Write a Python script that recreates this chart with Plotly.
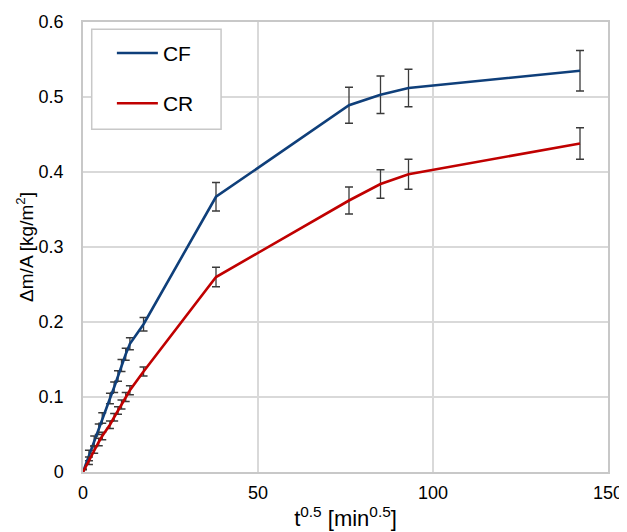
import plotly.graph_objects as go

x_vals = [0, 1.7, 3.2, 4.5, 5.5, 7.7, 8.9, 10.0, 11.0, 12.2, 13.4, 17.3, 38, 76, 85, 93, 142]
cf_vals = [0, 0.022, 0.041, 0.057, 0.072, 0.098, 0.113, 0.128, 0.142, 0.157, 0.171, 0.197, 0.367, 0.489, 0.503, 0.512, 0.535]
cf_err = [0.004, 0.007, 0.007, 0.007, 0.007, 0.007, 0.007, 0.007, 0.008, 0.008, 0.008, 0.009, 0.019, 0.024, 0.025, 0.025, 0.027]
cr_vals = [0, 0.015, 0.03, 0.04, 0.048, 0.063, 0.073, 0.082, 0.09, 0.1, 0.109, 0.134, 0.260, 0.362, 0.384, 0.397, 0.438]
cr_err = [0.003, 0.005, 0.005, 0.005, 0.005, 0.005, 0.005, 0.005, 0.006, 0.006, 0.006, 0.006, 0.013, 0.018, 0.019, 0.020, 0.021]

err_style = dict(type="data", thickness=1.3, width=4, color="#3a3a3a")

fig = go.Figure()
fig.add_trace(go.Scatter(x=x_vals, y=cf_vals, mode="lines", name="CF",
                         line=dict(color="#0F3F7A", width=2.6),
                         error_y=dict(array=cf_err, **err_style), legendgroup="a"))
fig.add_trace(go.Scatter(x=x_vals, y=cr_vals, mode="lines", name="CR",
                         line=dict(color="#C00000", width=2.6),
                         error_y=dict(array=cr_err, **err_style), legendgroup="b"))

font = dict(family="Liberation Sans, Arial, sans-serif", size=18, color="#000000")

fig.update_layout(
    width=619, height=524,
    margin=dict(l=75, r=19, t=14, b=60),
    paper_bgcolor="white", plot_bgcolor="white",
    font=font,
    showlegend=True,
    legend=dict(x=0.055, y=0.976, xanchor="left", yanchor="top",
                borderwidth=0, bgcolor="rgba(0,0,0,0)",
                font=dict(family="Liberation Sans, Arial, sans-serif", size=21),
                tracegroupgap=20, itemwidth=41),
    shapes=[dict(type="rect", xref="paper", yref="paper",
                 x0=0.0166, x1=0.263, y0=0.7616, y1=0.984,
                 line=dict(color="#c8c8c8", width=1.5), fillcolor="white", layer="above")],
    xaxis=dict(range=[0, 150], tickvals=[0, 50, 100, 150], ticks="outside", ticklen=4,
               tickcolor="rgba(0,0,0,0)", showgrid=True, gridcolor="#d9d9d9", gridwidth=1.5,
               showline=True, linecolor="#c8c8c8", linewidth=1.5, mirror=True, zeroline=False,
               automargin=False,
               title=dict(text="t<sup>0.5</sup> [min<sup>0.5</sup>]", standoff=8)),
    yaxis=dict(range=[0, 0.6], tickvals=[0, 0.1, 0.2, 0.3, 0.4, 0.5, 0.6],
               ticktext=["0", "0.1", "0.2", "0.3", "0.4", "0.5", "0.6"],
               ticks="outside", ticklen=14, tickcolor="rgba(0,0,0,0)",
               showgrid=True, gridcolor="#d9d9d9", gridwidth=1.5,
               showline=True, linecolor="#c8c8c8", linewidth=1.5, mirror=True, zeroline=False,
               automargin=False,
               title=dict(text="Δm/A [kg/m<sup>2</sup>]", standoff=0,
                          font=dict(size=19))),
)

fig.write_html("out.html")
